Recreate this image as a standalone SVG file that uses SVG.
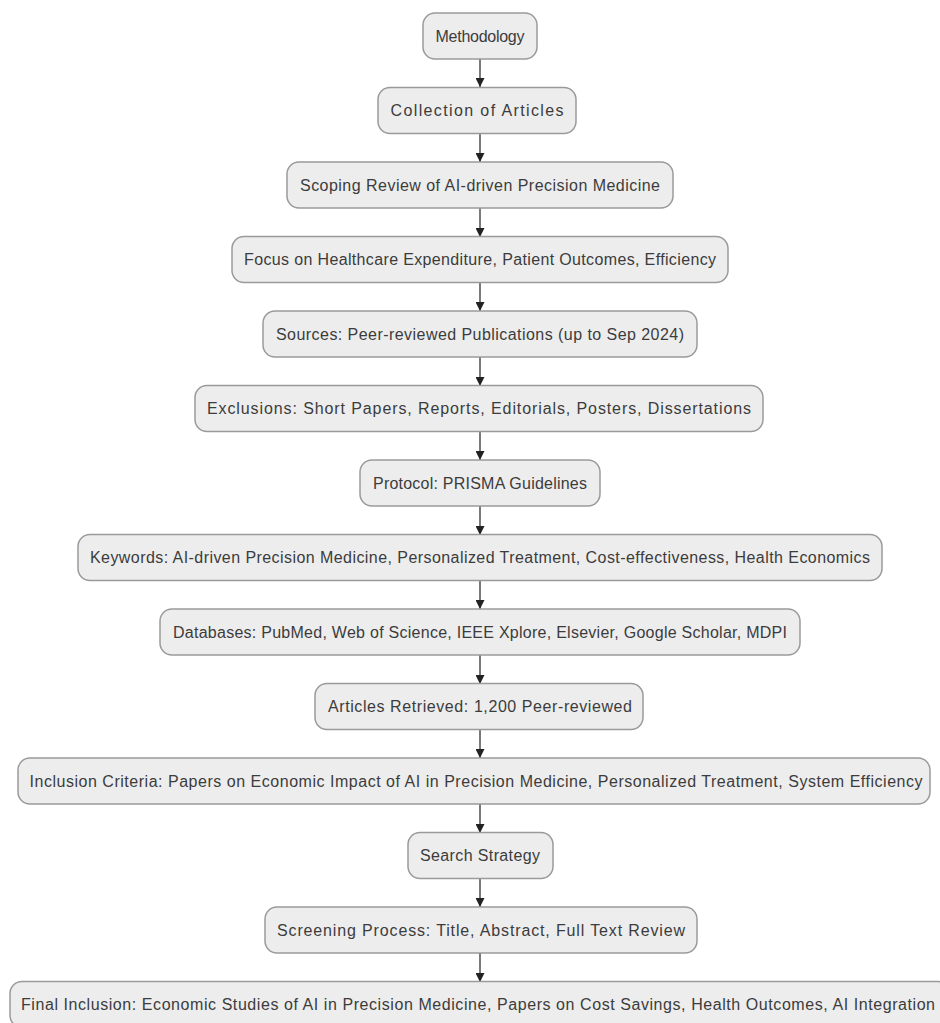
<svg xmlns="http://www.w3.org/2000/svg" width="940" height="1023" viewBox="0 0 940 1023">
<style>
.n rect{fill:#ededed;stroke:#9a9a9a;stroke-width:1.5}
.n text{font-family:"Liberation Sans",Arial,sans-serif;font-size:16px;fill:#3c3c3c;text-anchor:middle;dominant-baseline:central}
.e line{stroke:#333;stroke-width:1.3}
</style>
<defs>
<marker id="ah" viewBox="0 0 10 10" refX="10" refY="5" markerWidth="9" markerHeight="9" markerUnits="userSpaceOnUse" orient="auto">
<path d="M0,0L10,5L0,10z" fill="#222"/>
</marker>
</defs>
<rect width="940" height="1023" fill="#fff"/>
<g id="edges" class="e">
<line x1="480" y1="59" x2="480" y2="87" marker-end="url(#ah)"/>
<line x1="480" y1="133" x2="480" y2="162" marker-end="url(#ah)"/>
<line x1="480" y1="208" x2="480" y2="237" marker-end="url(#ah)"/>
<line x1="480" y1="283" x2="480" y2="311" marker-end="url(#ah)"/>
<line x1="480" y1="357" x2="480" y2="386" marker-end="url(#ah)"/>
<line x1="480" y1="432" x2="480" y2="460" marker-end="url(#ah)"/>
<line x1="480" y1="506" x2="480" y2="535" marker-end="url(#ah)"/>
<line x1="480" y1="581" x2="480" y2="609" marker-end="url(#ah)"/>
<line x1="480" y1="655" x2="480" y2="684" marker-end="url(#ah)"/>
<line x1="480" y1="730" x2="480" y2="758" marker-end="url(#ah)"/>
<line x1="480" y1="804" x2="480" y2="833" marker-end="url(#ah)"/>
<line x1="480" y1="879" x2="480" y2="907" marker-end="url(#ah)"/>
<line x1="480" y1="953" x2="480" y2="982" marker-end="url(#ah)"/>
</g>
<g id="n1" class="n"><rect x="423" y="13" width="114" height="46" rx="12"/><text x="480" y="36" textLength="89" lengthAdjust="spacing">Methodology</text></g>
<g id="n2" class="n"><rect x="378" y="87.5" width="198" height="46" rx="12"/><text x="477" y="110.5" textLength="173" lengthAdjust="spacing">Collection of Articles</text></g>
<g id="n3" class="n"><rect x="287" y="162" width="386" height="46" rx="12"/><text x="480" y="185" textLength="360" lengthAdjust="spacing">Scoping Review of AI-driven Precision Medicine</text></g>
<g id="n4" class="n"><rect x="232" y="236.5" width="496" height="46" rx="12"/><text x="480" y="259.5" textLength="472" lengthAdjust="spacing">Focus on Healthcare Expenditure, Patient Outcomes, Efficiency</text></g>
<g id="n5" class="n"><rect x="263" y="311" width="434" height="46" rx="12"/><text x="480" y="334" textLength="408" lengthAdjust="spacing">Sources: Peer-reviewed Publications (up to Sep 2024)</text></g>
<g id="n6" class="n"><rect x="195" y="385.5" width="568" height="46" rx="12"/><text x="479" y="408.5" textLength="544" lengthAdjust="spacing">Exclusions: Short Papers, Reports, Editorials, Posters, Dissertations</text></g>
<g id="n7" class="n"><rect x="360" y="460" width="240" height="46" rx="12"/><text x="480" y="483" textLength="214" lengthAdjust="spacing">Protocol: PRISMA Guidelines</text></g>
<g id="n8" class="n"><rect x="78" y="534.5" width="804" height="46" rx="12"/><text x="480" y="557.5" textLength="780" lengthAdjust="spacing">Keywords: AI-driven Precision Medicine, Personalized Treatment, Cost-effectiveness, Health Economics</text></g>
<g id="n9" class="n"><rect x="160" y="609" width="640" height="46" rx="12"/><text x="480" y="632" textLength="614" lengthAdjust="spacing">Databases: PubMed, Web of Science, IEEE Xplore, Elsevier, Google Scholar, MDPI</text></g>
<g id="n10" class="n"><rect x="315" y="683.5" width="328" height="46" rx="12"/><text x="480" y="706.5" textLength="304" lengthAdjust="spacing">Articles Retrieved: 1,200 Peer-reviewed</text></g>
<g id="n11" class="n"><rect x="18" y="758" width="912" height="46" rx="12"/><text x="476" y="781" textLength="893" lengthAdjust="spacing">Inclusion Criteria: Papers on Economic Impact of AI in Precision Medicine, Personalized Treatment, System Efficiency</text></g>
<g id="n12" class="n"><rect x="408" y="832.5" width="145" height="46" rx="12"/><text x="480" y="855.5" textLength="120" lengthAdjust="spacing">Search Strategy</text></g>
<g id="n13" class="n"><rect x="265" y="907" width="432" height="46" rx="12"/><text x="481" y="930" textLength="408" lengthAdjust="spacing">Screening Process: Title, Abstract, Full Text Review</text></g>
<g id="n14" class="n"><rect x="10" y="981.5" width="940" height="46" rx="12"/><text x="478" y="1004.5" textLength="914" lengthAdjust="spacing">Final Inclusion: Economic Studies of AI in Precision Medicine, Papers on Cost Savings, Health Outcomes, AI Integration</text></g>
</svg>
